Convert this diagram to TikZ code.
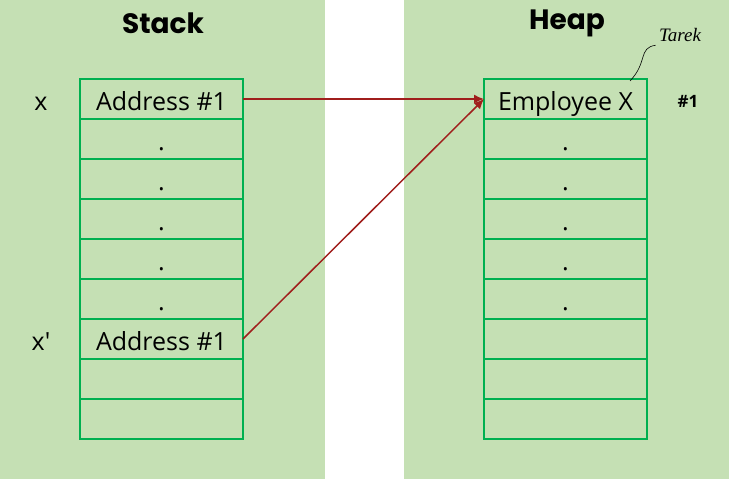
\documentclass[tikz,border=0pt]{standalone}
\usepackage{fontspec}
\setmainfont{Open Sans}
\newfontfamily\headfont{Poppins}
\newfontfamily\handfont{Liberation Serif}
\usetikzlibrary{positioning}
\usetikzlibrary{arrows.meta}
\definecolor{panelgreen}{RGB}{197,224,180}
\definecolor{boxgreen}{RGB}{0,176,80}
\definecolor{arrowred}{RGB}{160,30,28}

\begin{document}
\begin{tikzpicture}[x=1pt,y=-1pt,
    cell/.style={draw=boxgreen, line width=1.5pt, minimum width=163pt, minimum height=40pt,
                 inner sep=0pt, outer sep=0pt, text height=22pt, text depth=0pt,
                 font=\fontsize{25}{28}\selectfont},
    title/.style={font=\headfont\bfseries\fontsize{28}{30}\selectfont},
    ptr/.style={->, >={Latex[length=10pt,width=9pt]}, draw=arrowred, line width=1.5pt}]

          \useasboundingbox (0,0) rectangle (729,479);
          %Panels
          \fill [panelgreen] (0,0) rectangle (325,479);
          \fill [panelgreen] (404,0) rectangle (729,479);
          \node [title] (stack) at (163,23) {Stack};
          \node [title] (heap) at (567,23) {Heap};

          %Stack cells
          \node [cell] (s1) at (161.5,99) {Address \#1};
          \node [cell, below=0pt of s1] (s2) {.};
          \node [cell, below=0pt of s2] (s3) {.};
          \node [cell, below=0pt of s3] (s4) {.};
          \node [cell, below=0pt of s4] (s5) {.};
          \node [cell, below=0pt of s5] (s6) {.};
          \node [cell, below=0pt of s6] (s7) {Address \#1};
          \node [cell, below=0pt of s7] (s8) {};
          \node [cell, below=0pt of s8] (s9) {};

          \node [cell, draw=none, minimum width=0pt] (x) at (41,99) {x};
          \node [cell, draw=none, minimum width=0pt] (xp) at (41,339) {x\textquotesingle};

          %Heap cells
          \node [cell] (h1) at (565.5,99) {Employee X};
          \node [cell, below=0pt of h1] (h2) {.};
          \node [cell, below=0pt of h2] (h3) {.};
          \node [cell, below=0pt of h3] (h4) {.};
          \node [cell, below=0pt of h4] (h5) {.};
          \node [cell, below=0pt of h5] (h6) {.};
          \node [cell, below=0pt of h6] (h7) {};
          \node [cell, below=0pt of h7] (h8) {};
          \node [cell, below=0pt of h8] (h9) {};

          \node [font=\bfseries\fontsize{17}{19}\selectfont] (num) at (688,101) {\#1};
          \node [font=\handfont\itshape\fontsize{19}{21}\selectfont] (tarek) at (680,35) {Tarek};
          \coordinate (tag) at (630,81);

          %Pointers
          \draw [ptr] (s1.east) -- (h1.west);
          \draw [ptr] (s7.east) -- (h1.west);
          \draw [black, line width=0.6pt] (tag) .. controls (648,62) and (638,48) .. (tarek.south west);
\end{tikzpicture}
\end{document}
